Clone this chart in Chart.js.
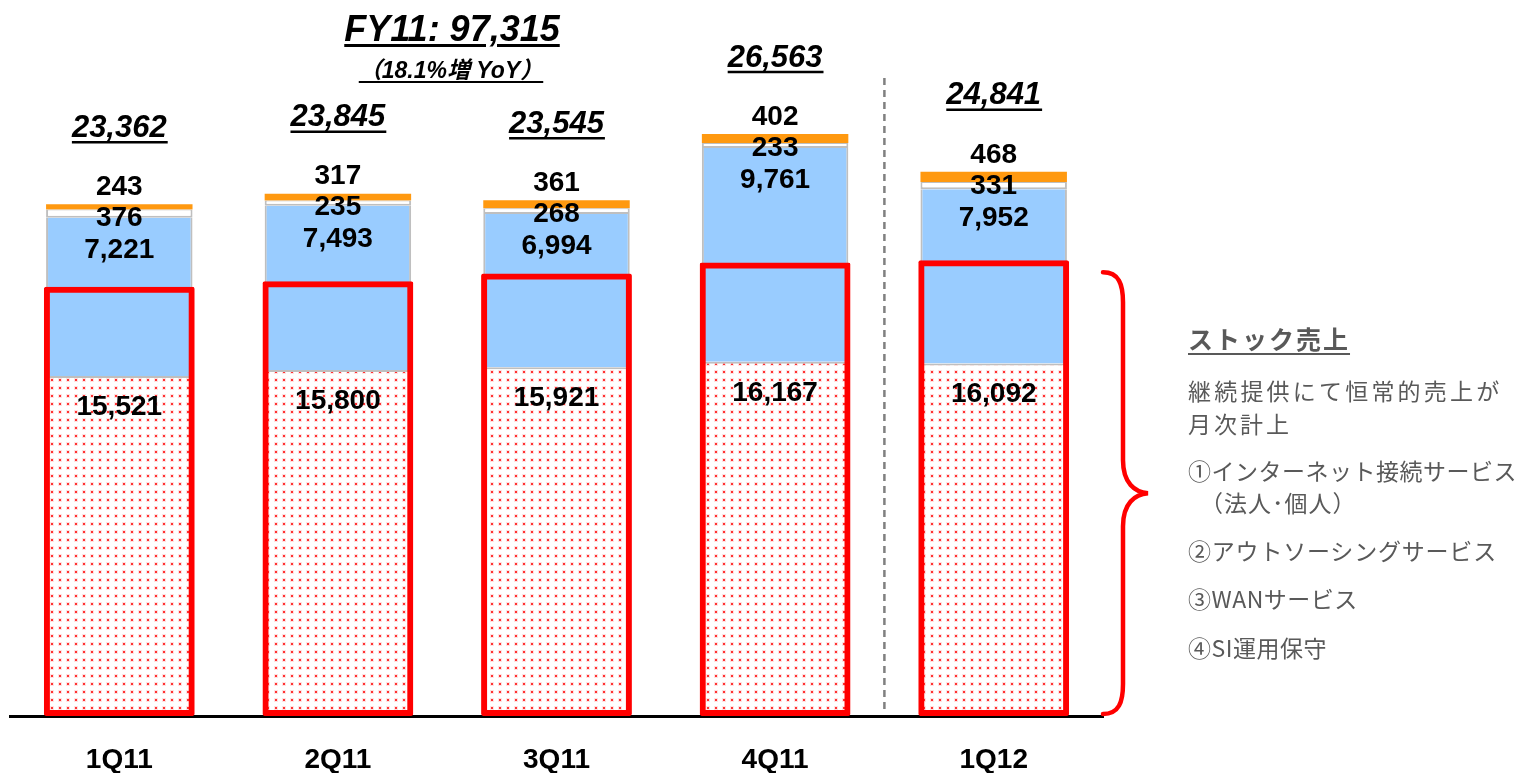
<!DOCTYPE html>
<html><head><meta charset="utf-8">
<script src="https://cdn.jsdelivr.net/npm/chart.js@4"></script>
<style>
body{margin:0;background:#fff;}
#wrap{position:relative;width:1524px;height:773px;overflow:hidden;background:#fff;}
#c{position:absolute;left:0;top:0;}
.t{position:absolute;white-space:nowrap;}
.title{left:452px;top:8px;line-height:40px;transform:translateX(-50%);font:italic bold 36px 'Liberation Sans',Arial,sans-serif;color:#000;text-decoration:underline;text-decoration-thickness:3px;text-underline-offset:3px;}
.sub{left:451px;top:51px;line-height:30px;transform:translateX(-50%);font:italic bold 23px 'Liberation Sans','Noto Sans CJK JP',sans-serif;color:#000;text-decoration:underline;text-decoration-thickness:2px;text-underline-offset:3px;}
.note{left:1188px;font-family:'Noto Sans CJK JP',sans-serif;color:#595959;font-size:23px;line-height:30px;}
.nhead{font-weight:bold;font-size:25px;letter-spacing:2px;text-decoration:underline;text-decoration-thickness:2px;text-underline-offset:4px;}
</style>
</head><body>
<div id="wrap">
<canvas id="c" width="1524" height="773"></canvas>
<div class="t title">FY11: 97,315</div>
<div class="t sub">（18.1%増 YoY）</div>
<div class="t note nhead" style="top:323px">ストック売上</div>
<div class="t note" style="top:375px;letter-spacing:3.2px">継続提供にて恒常的売上が</div>
<div class="t note" style="top:408px;letter-spacing:3px">月次計上</div>
<div class="t note" style="top:455px;letter-spacing:0.5px">①インターネット接続サービス</div>
<div class="t note" style="top:487px;left:1200px;letter-spacing:1px">（法人･個人）</div>
<div class="t note" style="top:535px;letter-spacing:0.8px">②アウトソーシングサービス</div>
<div class="t note" style="top:583px;letter-spacing:0.5px">③WANサービス</div>
<div class="t note" style="top:632px;letter-spacing:0.5px">④SI運用保守</div>
</div>
<script>
const categories = ['1Q11','2Q11','3Q11','4Q11','1Q12'];
const stockBase  = [15521, 15800, 15921, 16167, 16092];
const blueSeg    = [7221, 7493, 6994, 9761, 7952];
const whiteSeg   = [376, 235, 268, 233, 331];
const orangeSeg  = [243, 317, 361, 402, 468];
const totals     = ['23,362','23,845','23,545','26,563','24,841'];
const stockBox   = [19600, 19850, 20200, 20700, 20800];

const fmt = v => v.toLocaleString('en-US');
const FONT = "'Liberation Sans', Arial, sans-serif";

// dotted pattern
const pc = document.createElement('canvas');
pc.width = 8; pc.height = 8;
const pctx = pc.getContext('2d');
pctx.fillStyle = '#ffffff'; pctx.fillRect(0,0,8,8);
pctx.fillStyle = 'rgba(255,170,170,0.35)'; pctx.fillRect(2,2,4,4);
pctx.fillStyle = 'rgba(255,20,20,0.85)'; pctx.fillRect(3,3,2,2);
const ctx0 = document.getElementById('c').getContext('2d');
const dots = ctx0.createPattern(pc, 'repeat');

const labelPlugin = {
  id: 'labels',
  afterDatasetsDraw(chart) {
    const ctx = chart.ctx;
    const mBase = chart.getDatasetMeta(1);
    const mTop = chart.getDatasetMeta(4);
    const xs = chart.scales.x;
    const area = chart.chartArea;
    ctx.save();
    // dashed separator between 4Q11 and 1Q12
    const sx = (xs.getPixelForValue(3) + xs.getPixelForValue(4)) / 2;
    ctx.strokeStyle = '#808080'; ctx.lineWidth = 2.5; ctx.setLineDash([7,5]);
    ctx.beginPath(); ctx.moveTo(sx, 78); ctx.lineTo(sx, area.bottom - 2); ctx.stroke();
    ctx.setLineDash([]);
    ctx.textAlign = 'center'; ctx.textBaseline = 'middle'; ctx.fillStyle = '#000';
    for (let i = 0; i < categories.length; i++) {
      const x = mTop.data[i].x;
      const top = mTop.data[i].y;
      const bTop = mBase.data[i].y;
      ctx.font = 'bold 28px ' + FONT;
      ctx.fillText(fmt(orangeSeg[i]), x, top - 17);
      ctx.fillText(fmt(whiteSeg[i]), x, top + 14);
      ctx.fillText(fmt(blueSeg[i]), x, top + 46);
      ctx.fillText(fmt(stockBase[i]), x, bTop + 31);
      ctx.font = 'italic bold 31px ' + FONT;
      const ty = top - 76;
      ctx.fillText(totals[i], x, ty);
      const w = ctx.measureText(totals[i]).width;
      ctx.strokeStyle = '#000'; ctx.lineWidth = 2.5;
      ctx.beginPath(); ctx.moveTo(x - w/2, ty + 14); ctx.lineTo(x + w/2 + 1, ty + 14); ctx.stroke();
    }
    // brace
    const ys = chart.scales.y;
    const bt = ys.getPixelForValue(stockBox[4]) + 12;
    const bb = area.bottom - 2;
    const bm = (bt + bb) / 2;
    const x0 = area.right;
    const xv = x0 + 20, xt = x0 + 45;
    ctx.strokeStyle = '#ff0000'; ctx.lineWidth = 4.5; ctx.lineCap = 'round';
    ctx.beginPath();
    ctx.moveTo(x0, bt);
    ctx.bezierCurveTo(x0 + 16, bt, xv, bt + 12, xv, bt + 30);
    ctx.lineTo(xv, bm - 33);
    ctx.bezierCurveTo(xv, bm - 10, xv + 12, bm - 1, xt, bm);
    ctx.bezierCurveTo(xv + 12, bm + 1, xv, bm + 10, xv, bm + 33);
    ctx.lineTo(xv, bb - 30);
    ctx.bezierCurveTo(xv, bb - 12, x0 + 16, bb, x0, bb);
    ctx.stroke();
    ctx.restore();
  }
};

const grey = '#BFBFBF';
new Chart(ctx0, {
  type: 'bar',
  data: {
    labels: categories,
    datasets: [
      { label: 'stock', data: stockBox, stack: 'box', grouped: false, backgroundColor: 'rgba(0,0,0,0)', borderColor: '#ff0000', borderWidth: 6, borderSkipped: false, borderRadius: 2, barPercentage: 0.69, categoryPercentage: 1, order: 0 },
      { label: 'base', data: stockBase, stack: 'main', backgroundColor: dots, borderColor: grey, borderWidth: {top: 2, left: 2, right: 2, bottom: 0}, borderSkipped: false, barPercentage: 0.67, categoryPercentage: 1, order: 1 },
      { label: 'blue', data: blueSeg, stack: 'main', backgroundColor: '#99CCFF', borderColor: grey, borderWidth: {top: 0, left: 2, right: 2, bottom: 0}, borderSkipped: false, barPercentage: 0.67, categoryPercentage: 1, order: 1 },
      { label: 'white', data: whiteSeg, stack: 'main', backgroundColor: '#FFFFFF', borderColor: grey, borderWidth: {top: 1, left: 2, right: 2, bottom: 2}, borderSkipped: false, barPercentage: 0.67, categoryPercentage: 1, order: 1 },
      { label: 'orange', data: orangeSeg, stack: 'main', backgroundColor: '#FF9910', borderColor: '#FFB040', borderWidth: 0, borderSkipped: false, barPercentage: 0.67, categoryPercentage: 1, order: 1 }
    ]
  },
  options: {
    responsive: false,
    animation: false,
    devicePixelRatio: 1,
    layout: { padding: { left: 10, right: 421, top: 15, bottom: 0 } },
    plugins: { legend: { display: false }, tooltip: { enabled: false } },
    scales: {
      x: {
        stacked: true,
        grid: { display: false, drawTicks: false },
        border: { display: true, color: '#000', width: 3 },
        ticks: { color: '#000', font: { family: FONT, size: 28, weight: 'bold' }, padding: 27 },
        afterFit: a => { a.height = 57; }
      },
      y: { stacked: true, display: false, min: 0, max: 32000 }
    }
  },
  plugins: [labelPlugin]
});
</script>
</body></html>
